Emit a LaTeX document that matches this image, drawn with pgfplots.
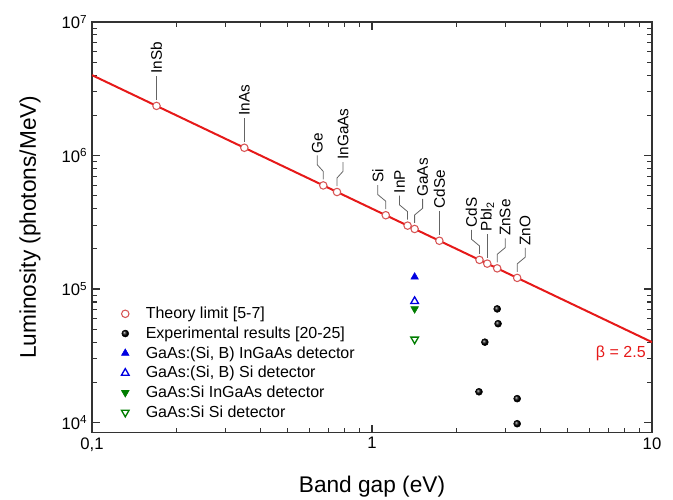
\documentclass[border=0pt]{standalone}
\usepackage{pgfplots}
\pgfplotsset{compat=1.18}
\usepackage{fontspec}
\setmainfont{Liberation Sans}
\definecolor{thred}{RGB}{230,25,25}
\definecolor{circred}{RGB}{215,85,85}
\definecolor{leader}{RGB}{100,100,100}
\definecolor{expgreen}{RGB}{0,125,0}
\definecolor{expblue}{RGB}{0,0,225}
% material label: x, y, sideways offset, text
\newcommand{\mat}[4]{%
  \draw[leader,line width=0.6pt] (axis cs:#1,#2) ++(canvas cs:x=0pt,y=4.5pt) -- ++(canvas cs:x=0pt,y=6pt)
    -- ++(canvas cs:x=#3,y=5pt) -- ++(canvas cs:x=0pt,y=7pt)
    node[rotate=90,anchor=west,inner sep=1.5pt,text=black,font=\fontsize{11.5}{13}\selectfont]{#4};}
\begin{document}
\begin{tikzpicture}
\useasboundingbox (-69pt,-50.25pt) rectangle (435.75pt,324.5pt);
\begin{axis}[
    scale only axis,
    width=420pt, height=308pt,
    xmode=log, ymode=log,
    xmin=0.1, xmax=10,
    ymin=8.4e3, ymax=1e7,
    xtick={0.1,1,10},
    xticklabels={{0,1},{1},{10}},
    ytick={1e4,1e5,1e6,1e7},
    yticklabels={10\textsuperscript{4},10\textsuperscript{5},10\textsuperscript{6},10\textsuperscript{7}},
    tick align=inside,
    tick pos=both,
    major tick length=6pt,
    minor tick length=3.5pt,
    tick style={line width=0.8pt, black!80},
    axis line style={line width=1pt, black!80},
    ticklabel style={font=\fontsize{12.5}{14}\selectfont},
    xlabel={Band gap (eV)},
    ylabel={Luminosity (photons/MeV)},
    label style={font=\fontsize{17}{20}\selectfont},
    x label style={at={(axis description cs:0.5,-0.1315)}, anchor=center},
    y label style={at={(axis description cs:-0.1107,0.5)}, anchor=center},
    legend style={at={(0.045,0.318)}, anchor=north west, draw=none, fill=none,
        font=\fontsize{12}{14}\selectfont, nodes={inner sep=1.5pt}, row sep=1.6pt,
        /tikz/every odd column/.append style={column sep=11pt}},
    legend cell align=left,
]

% theory line, L = 4e5 / Eg
\addplot[thred, line width=1.5pt, forget plot] coordinates {(0.1,4e6) (10,4e4)};

\addplot[only marks, mark=*, mark size=2.8pt,
    mark options={fill=white, draw=circred, line width=0.8pt}]
    coordinates {
    (0.17,2.353e6) (0.35,1.143e6) (0.67,5.97e5) (0.75,5.33e5)
    (1.12,3.571e5) (1.34,2.985e5) (1.42,2.817e5) (1.74,2.299e5)
    (2.42,1.653e5) (2.58,1.550e5) (2.8,1.429e5) (3.3,1.212e5)
    };
\addlegendentry{Theory limit [5-7]}

\addplot[only marks, mark=ball, ball color=black, mark size=2.6pt]
    coordinates {
    (2.8,7.1e4) (2.82,5.5e4) (2.53,4.0e4) (2.41,1.7e4) (3.3,1.51e4) (3.3,9.8e3)
    };
\addlegendentry{Experimental results [20-25]}

\addplot[only marks, mark=triangle*, mark size=3.3pt, expblue,
    mark options={fill=expblue}]
    coordinates {(1.42,1.23e5)};
\addlegendentry{GaAs:(Si, B) InGaAs detector}

\addplot[only marks, mark=triangle, mark size=3.3pt, expblue,
    mark options={line width=1pt}]
    coordinates {(1.42,8.1e4)};
\addlegendentry{GaAs:(Si, B) Si detector}

\addplot[only marks, mark=triangle*, mark size=3.3pt, expgreen,
    mark options={fill=expgreen, rotate=180}]
    coordinates {(1.42,7.1e4)};
\addlegendentry{GaAs:Si InGaAs detector}

\addplot[only marks, mark=triangle, mark size=3.3pt, expgreen,
    mark options={line width=1pt, rotate=180}]
    coordinates {(1.42,4.2e4)};
\addlegendentry{GaAs:Si Si detector}

\mat{0.17}{2.353e6}{0pt}{InSb}
\mat{0.35}{1.143e6}{0pt}{InAs}
\mat{0.67}{5.97e5}{-4.5pt}{Ge}
\mat{0.75}{5.33e5}{4.5pt}{InGaAs}
\mat{1.12}{3.571e5}{-6pt}{Si}
\mat{1.34}{2.985e5}{-6pt}{InP}
\mat{1.42}{2.817e5}{6pt}{GaAs}
\mat{1.74}{2.299e5}{0pt}{CdSe}
\mat{2.42}{1.653e5}{-6pt}{CdS}
\mat{2.58}{1.550e5}{0pt}{PbI\textsubscript{2}}
\mat{2.8}{1.429e5}{6pt}{ZnSe}
\mat{3.3}{1.212e5}{6pt}{ZnO}

\node[text=thred, font=\fontsize{12}{14}\selectfont] at (axis cs:7.74,3.27e4) {β = 2.5};
\end{axis}
\end{tikzpicture}
\end{document}
